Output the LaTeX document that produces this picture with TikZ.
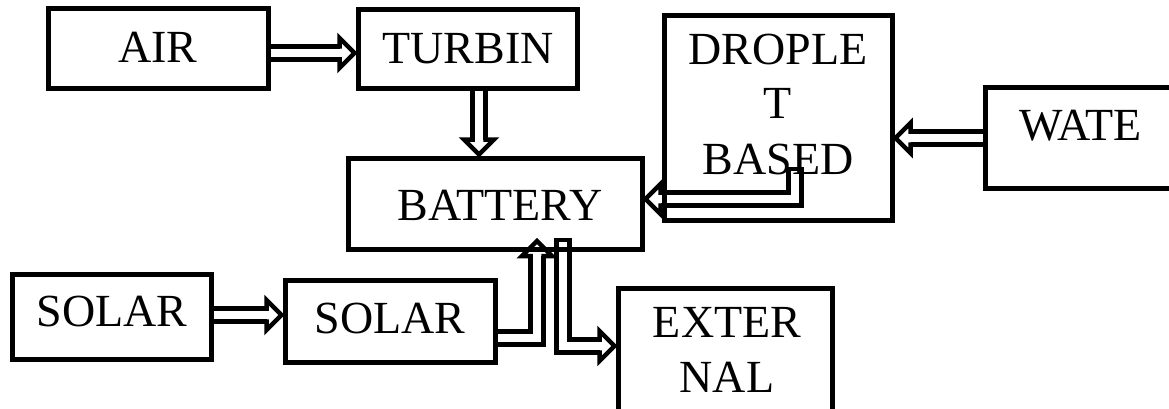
\documentclass[tikz,border=0pt]{standalone}
\usepackage{fontspec}
\setmainfont{Liberation Serif}
\usetikzlibrary{backgrounds}
\begin{document}
\begin{tikzpicture}[x=1pt,y=-1pt,
  box/.style={draw, line width=5pt, inner sep=0pt},
  lbl/.style={font=\fontsize{46}{55}\selectfont, align=center, inner sep=0pt},
  dbl/.style={double, double distance=8.5pt, line width=4.5pt, shorten >=16pt},
  ahead/.pic={\draw[line width=4.5pt, line join=miter, line cap=butt]
      (-21,-6.5) -- (-16,-6.5) -- (-16,-15) -- (-1,0) -- (-16,15) -- (-16,6.5) -- (-21,6.5);},
  acap/.pic={\draw[line width=4.5pt] (0,-8.75) -- (0,8.75);}]
\useasboundingbox (0,0) rectangle (1169,409);
% boxes
\node[box, minimum width=220pt, minimum height=80pt] (air) at (158,49) {};
\node[box, minimum width=219pt, minimum height=79pt] (turbin) at (467.5,49.5) {};
\node[box, minimum width=228pt, minimum height=204pt] (droplet) at (778,118) {};
\node[box, minimum width=220pt, minimum height=100pt] (wate) at (1095,138) {};
\node[box, minimum width=294pt, minimum height=91pt] (battery) at (495,203.5) {};
\node[box, minimum width=199pt, minimum height=85pt] (solarA) at (111.5,317) {};
\node[box, minimum width=210pt, minimum height=82pt] (solarB) at (390,321) {};
\node[box, minimum width=214pt, minimum height=144pt] (external) at (725,360) {};
% arrow end points
\coordinate (dstart) at (795,169);
\coordinate (bin) at (537,240);
\coordinate (bout) at (563,240);
\coordinate (e1) at ([yshift=-4pt]air.east -| turbin.west);
\coordinate (e2) at ([xshift=11.5pt]turbin.south |- battery.north);
\coordinate (e3) at ([yshift=4.5pt]battery.east);
\coordinate (e4) at (wate.west -| droplet.east);
\coordinate (e5) at ([yshift=2pt]solarA.east -| solarB.west);
\coordinate (e7) at ([yshift=14pt]external.west);
% arrows
\begin{scope}[on background layer]
\draw[dbl] ([yshift=-4pt]air.east) -- (e1);
\pic at (e1) {ahead};
\draw[dbl] ([xshift=11.5pt]turbin.south) -- (e2);
\pic[rotate=-90] at (e2) {ahead};
\draw[dbl] (dstart) |- (e3);
\pic[rotate=90] at (dstart) {acap};
\pic[rotate=180] at (e3) {ahead};
\draw[dbl] (wate.west) -- (e4);
\pic[rotate=180] at (e4) {ahead};
\draw[dbl] ([yshift=2pt]solarA.east) -- (e5);
\pic at (e5) {ahead};
\draw[dbl] ([yshift=-17pt]solarB.east) -| (bin);
\pic[rotate=90] at (bin) {ahead};
\draw[dbl] (bout) |- (e7);
\pic[rotate=90] at (bout) {acap};
\pic at (e7) {ahead};
\end{scope}
% labels
\node[lbl, anchor=base] (airT) at (158,63) {AIR};
\node[lbl, anchor=base] (turbinT) at (468,64) {TURBIN};
\node[lbl, anchor=base] (dropletT) at (778,174) {DROPLE\\T\\BASED};
\node[lbl, anchor=base west] (wateT) at (1019,140) {WATE};
\node[lbl, anchor=base] (batteryT) at (500,220) {BATTERY};
\node[lbl, anchor=base] (solarAT) at (112,326) {SOLAR};
\node[lbl, anchor=base] (solarBT) at (390,333) {SOLAR};
\node[lbl, anchor=base] (externalT) at (727,392) {EXTER\\NAL};
\end{tikzpicture}
\end{document}
